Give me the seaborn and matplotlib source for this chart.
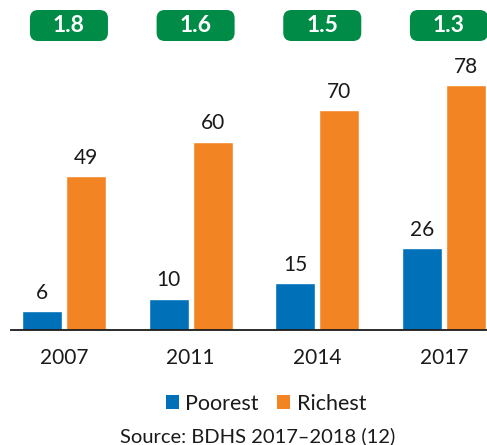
import matplotlib
matplotlib.use("Agg")
import matplotlib.pyplot as plt
import matplotlib.transforms as mtransforms
from matplotlib.patches import FancyBboxPatch, Patch
import pandas as pd
import seaborn as sns

# Survey years, wealth groups and coverage (%)
years = ["2007", "2011", "2014", "2017"]
groups = ["Poorest", "Richest"]
poorest = [6, 10, 15, 26]
richest = [49, 60, 70, 78]
# Richest-to-poorest ratio shown above each survey year
ratios = ["1.8", "1.6", "1.5", "1.3"]
source_note = "Source: BDHS 2017\u20132018 (12)"

colors = {"Poorest": "#0071b9", "Richest": "#f38424"}
green = "#008c46"

df = pd.DataFrame({
    "year": years * 2,
    "group": ["Poorest"] * len(years) + ["Richest"] * len(years),
    "value": poorest + richest,
})

sns.set_style("white")
plt.rcParams["font.family"] = ["Lato", "DejaVu Sans"]

fig = plt.figure(figsize=(4.87, 4.45), dpi=100)
ax = fig.add_axes([11 / 487, 115 / 445, 476 / 487, 280 / 445])

group_width = 0.695
sns.barplot(data=df, x="year", y="value", hue="group", order=years,
            hue_order=groups, palette=colors, width=group_width, gap=0.09,
            saturation=1, legend=False, ax=ax)

for container in ax.containers:
    ax.bar_label(container, fmt="%d", padding=6, fontsize=15, color="#1a1a1a")

ax.set_xlim(-0.418, 3.34)
ax.set_ylim(0, 89.2)
ax.set_xlabel("")
ax.set_ylabel("")
ax.set_yticks([])
ax.tick_params(axis="x", length=0, pad=13, labelsize=15, labelcolor="#1a1a1a")
for side in ["top", "right", "left"]:
    ax.spines[side].set_visible(False)
ax.spines["bottom"].set_color("#1a1a1a")
ax.spines["bottom"].set_linewidth(1.3)

# Green ratio badges, right-aligned with the Richest bar of each year
trans = mtransforms.blended_transform_factory(ax.transData, fig.transFigure)
box_w = 0.616
box_h = 31 / 445
box_y = 1 - 41 / 445
for i, r in enumerate(ratios):
    right = i + group_width / 2
    left = right - box_w
    badge = FancyBboxPatch((left, box_y), box_w, box_h,
                           boxstyle="round,pad=0,rounding_size=0.065",
                           mutation_aspect=0.286, transform=trans,
                           facecolor=green, edgecolor="none", clip_on=False)
    fig.add_artist(badge)
    fig.text(left + box_w / 2, box_y + box_h / 2, r, transform=trans,
             ha="center", va="center", fontsize=16.5, fontweight="bold",
             color="white")

handles = [Patch(facecolor=colors[g], edgecolor="none", label=g) for g in groups]
fig.legend(handles=handles, loc="center", bbox_to_anchor=(266 / 487, 1 - 404 / 445),
           ncol=2, frameon=False, fontsize=15.5, handlelength=0.62, handleheight=0.62,
           handletextpad=0.3, columnspacing=0.85, labelcolor="#1a1a1a",
           borderpad=0, borderaxespad=0)

fig.text(258 / 487, 1 - 436 / 445, source_note, ha="center", va="center",
         fontsize=14.5, color="#1a1a1a")

fig.savefig("out.png", dpi=100)
